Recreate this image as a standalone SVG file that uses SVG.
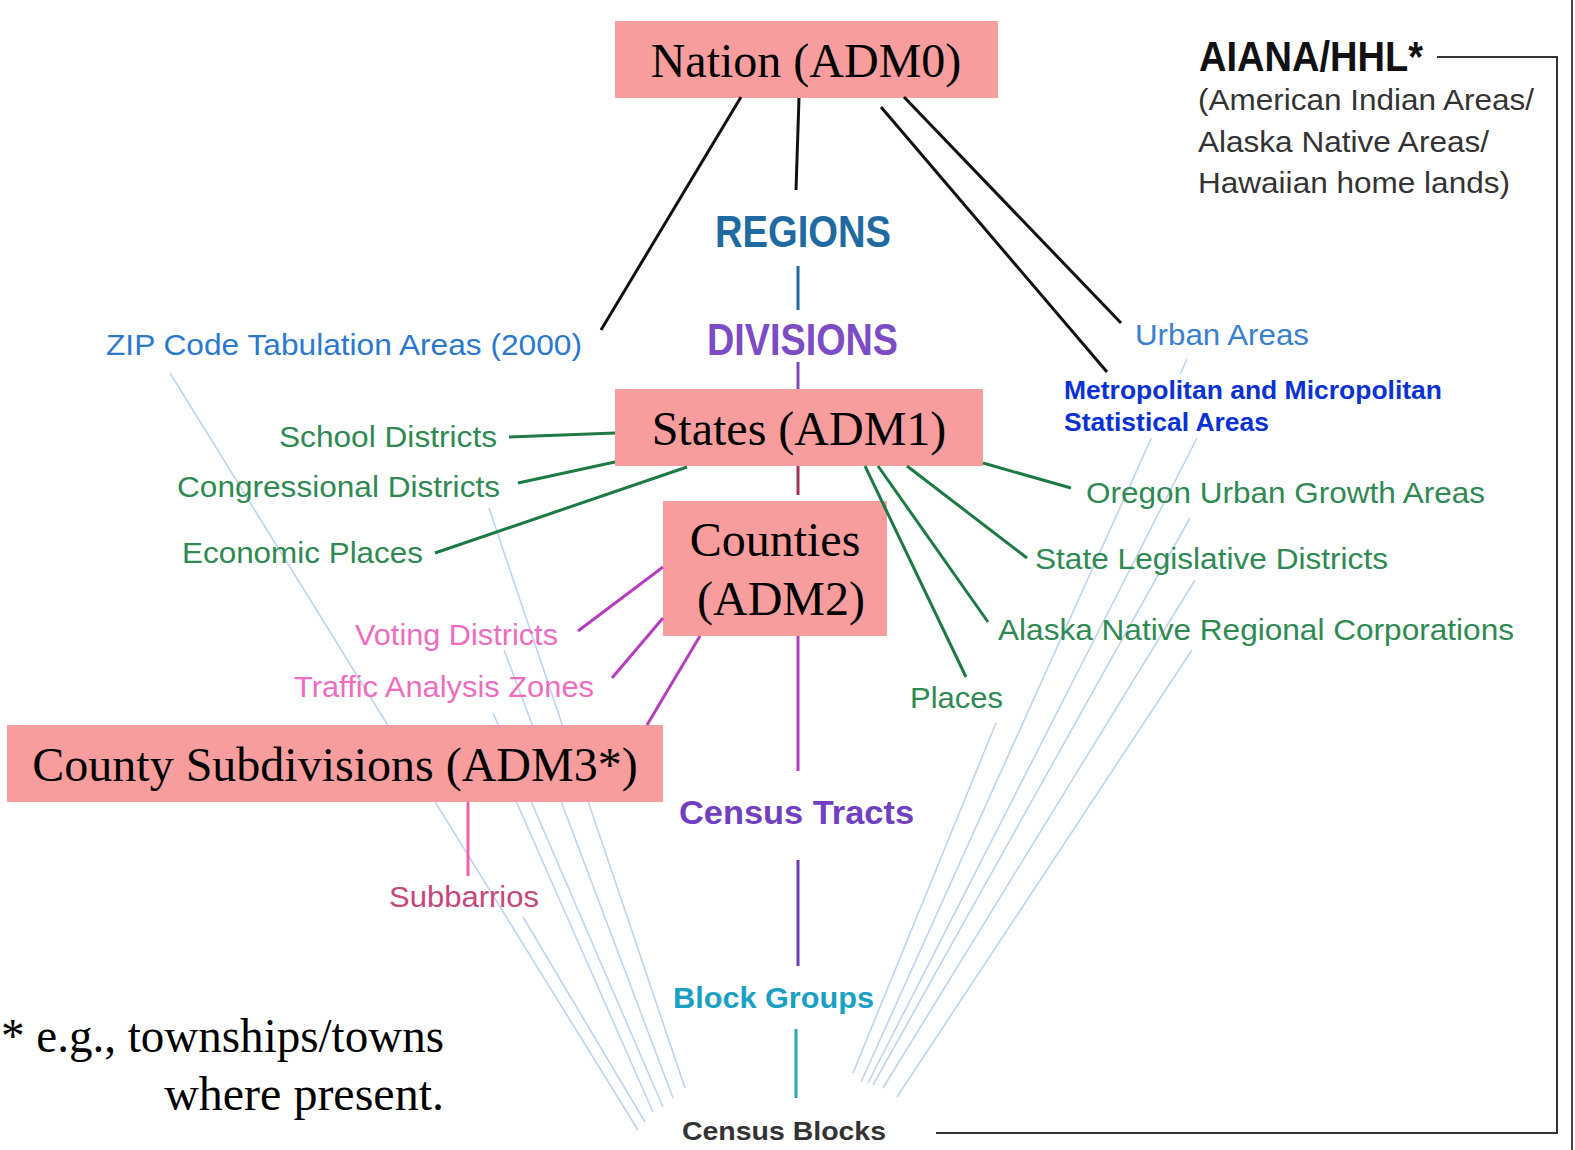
<svg xmlns="http://www.w3.org/2000/svg" width="1575" height="1150" viewBox="0 0 1575 1150">
<style>
.box{fill:#f79d9d}
.bt{font-family:"Liberation Serif","Times New Roman",serif;font-size:48px;fill:#000}
.s{font-family:"Liberation Sans",Arial,sans-serif;font-size:29px}
.b{font-family:"Liberation Sans",Arial,sans-serif;font-weight:bold}
.g{fill:#2e8a52}
.pk{fill:#f06cbf}
.faint{stroke:#bfd3ef;stroke-width:1.6;fill:none}
.blk{stroke:#111;stroke-width:3;fill:none}
.grn{stroke:#1d7a44;stroke-width:3;fill:none}
.mag{stroke:#b63cc0;stroke-width:3;fill:none}
</style>
<rect width="1575" height="1150" fill="#fff"/>
<g id="faint-lines">
<line class="faint" x1="170" y1="373" x2="638" y2="1130"/>
<line class="faint" x1="489" y1="508" x2="685" y2="1088"/>
<line class="faint" x1="504" y1="650" x2="673" y2="1098"/>
<line class="faint" x1="493" y1="713" x2="663" y2="1107"/>
<line class="faint" x1="516" y1="801" x2="653" y2="1112"/>
<line class="faint" x1="523" y1="917" x2="645" y2="1122"/>
<line class="faint" x1="996" y1="723" x2="853" y2="1073"/>
<line class="faint" x1="1187" y1="359" x2="861" y2="1082"/>
<line class="faint" x1="1197" y1="438" x2="868" y2="1083"/>
<line class="faint" x1="1190" y1="518" x2="873" y2="1085"/>
<line class="faint" x1="1195" y1="580" x2="883" y2="1088"/>
<line class="faint" x1="1192" y1="650" x2="897" y2="1097"/>
</g>
<line x1="1572" y1="0" x2="1572" y2="1150" stroke="#444" stroke-width="2"/>
<g id="n-nation"><rect class="box" x="615" y="21" width="383" height="77"/><text class="bt" x="806" y="77" text-anchor="middle">Nation (ADM0)</text></g>
<g id="n-states"><rect class="box" x="615" y="389" width="368" height="77"/><text class="bt" x="799" y="445" text-anchor="middle">States (ADM1)</text></g>
<g id="n-counties"><rect class="box" x="663" y="501" width="224" height="135"/><text class="bt" x="775" y="556" text-anchor="middle">Counties</text><text class="bt" x="781" y="615" text-anchor="middle">(ADM2)</text></g>
<g id="n-countysub"><rect class="box" x="7" y="725" width="656" height="77"/><text class="bt" x="335" y="781" text-anchor="middle">County Subdivisions (ADM3*)</text></g>
<g id="connectors">
<line class="blk" x1="741" y1="97" x2="601" y2="330"/>
<line class="blk" x1="799" y1="98" x2="796" y2="190"/>
<line class="blk" x1="881" y1="107" x2="1107" y2="372"/>
<line class="blk" x1="904" y1="97" x2="1121" y2="323"/>
<line x1="798" y1="266" x2="798" y2="310" stroke="#1f6aa0" stroke-width="3"/>
<line x1="798" y1="362" x2="798" y2="389" stroke="#8048c0" stroke-width="3"/>
<line x1="798" y1="466" x2="798" y2="495" stroke="#a0305e" stroke-width="3"/>
<line x1="798" y1="636" x2="798" y2="771" stroke="#b03cc0" stroke-width="3"/>
<line x1="798" y1="860" x2="798" y2="966" stroke="#6a3ab8" stroke-width="3"/>
<line x1="796" y1="1029" x2="796" y2="1098" stroke="#28a4b8" stroke-width="3"/>
<line x1="468" y1="802" x2="468" y2="876" stroke="#f060b0" stroke-width="3"/>
<line class="grn" x1="509" y1="437" x2="615" y2="433"/>
<line class="grn" x1="518" y1="483" x2="615" y2="462"/>
<line class="grn" x1="435" y1="553" x2="687" y2="467"/>
<line class="grn" x1="983" y1="463" x2="1071" y2="488"/>
<line class="grn" x1="907" y1="466" x2="1027" y2="558"/>
<line class="grn" x1="878" y1="466" x2="988" y2="622"/>
<line class="grn" x1="865" y1="466" x2="966" y2="677"/>
<line class="mag" x1="578" y1="631" x2="663" y2="567"/>
<line class="mag" x1="612" y1="678" x2="663" y2="618"/>
<line class="mag" x1="647" y1="725" x2="700" y2="636"/>
<polyline points="1437,57 1557,57 1557,1133 936,1133" fill="none" stroke="#333" stroke-width="2"/>
</g>
<g id="n-regions"><text class="b" x="715" y="247" font-size="44" fill="#1f6aa0" textLength="176" lengthAdjust="spacingAndGlyphs">REGIONS</text></g>
<g id="n-divisions"><text class="b" x="707" y="355" font-size="44" fill="#7b4cc4" textLength="191" lengthAdjust="spacingAndGlyphs">DIVISIONS</text></g>
<g id="n-aiana">
<text class="b" x="1199" y="71" font-size="43" fill="#111" textLength="224" lengthAdjust="spacingAndGlyphs">AIANA/HHL*</text>
<text class="s" x="1198" y="110" fill="#333" textLength="336" lengthAdjust="spacingAndGlyphs">(American Indian Areas/</text>
<text class="s" x="1198" y="152" fill="#333" textLength="291" lengthAdjust="spacingAndGlyphs">Alaska Native Areas/</text>
<text class="s" x="1198" y="193" fill="#333" textLength="312" lengthAdjust="spacingAndGlyphs">Hawaiian home lands)</text>
</g>
<g id="n-zip"><text class="s" x="106" y="355" fill="#2a78d0" textLength="476" lengthAdjust="spacingAndGlyphs">ZIP Code Tabulation Areas (2000)</text></g>
<g id="n-urban"><text class="s" x="1135" y="345" fill="#3a80d0" textLength="174" lengthAdjust="spacingAndGlyphs">Urban Areas</text></g>
<g id="n-metro">
<rect x="1058" y="374" width="388" height="64" fill="#fff"/>
<text class="b" x="1064" y="399" font-size="26" fill="#0a32d2" textLength="378" lengthAdjust="spacingAndGlyphs">Metropolitan and Micropolitan</text>
<text class="b" x="1064" y="431" font-size="26" fill="#0a32d2" textLength="205" lengthAdjust="spacingAndGlyphs">Statistical Areas</text>
</g>
<g id="n-school"><text class="s g" x="279" y="447" textLength="218" lengthAdjust="spacingAndGlyphs">School Districts</text></g>
<g id="n-congress"><text class="s g" x="177" y="497" textLength="323" lengthAdjust="spacingAndGlyphs">Congressional Districts</text></g>
<g id="n-economic"><text class="s g" x="182" y="563" textLength="241" lengthAdjust="spacingAndGlyphs">Economic Places</text></g>
<g id="n-voting"><text class="s pk" x="355" y="645" textLength="203" lengthAdjust="spacingAndGlyphs">Voting Districts</text></g>
<g id="n-taz"><text class="s pk" x="294" y="697" textLength="300" lengthAdjust="spacingAndGlyphs">Traffic Analysis Zones</text></g>
<g id="n-oregon"><text class="s g" x="1086" y="503" textLength="399" lengthAdjust="spacingAndGlyphs">Oregon Urban Growth Areas</text></g>
<g id="n-stateleg"><text class="s g" x="1035" y="569" textLength="353" lengthAdjust="spacingAndGlyphs">State Legislative Districts</text></g>
<g id="n-alaska"><text class="s g" x="998" y="640" textLength="516" lengthAdjust="spacingAndGlyphs">Alaska Native Regional Corporations</text></g>
<g id="n-places"><text class="s g" x="910" y="708" textLength="93" lengthAdjust="spacingAndGlyphs">Places</text></g>
<g id="n-subbarrios"><text class="s" x="389" y="907" fill="#c8467a" textLength="150" lengthAdjust="spacingAndGlyphs">Subbarrios</text></g>
<g id="n-tracts"><text class="b" x="679" y="824" font-size="33" fill="#7040c0" textLength="235" lengthAdjust="spacingAndGlyphs">Census Tracts</text></g>
<g id="n-bg"><text class="b" x="673" y="1008" font-size="29" fill="#1aa0c4" textLength="201" lengthAdjust="spacingAndGlyphs">Block Groups</text></g>
<g id="n-blocks"><text class="b" x="682" y="1140" font-size="26" fill="#333" textLength="204" lengthAdjust="spacingAndGlyphs">Census Blocks</text></g>
<g id="footnote">
<text class="bt" x="1" y="1052" textLength="443" lengthAdjust="spacingAndGlyphs">* e.g., townships/towns</text>
<text class="bt" x="444" y="1110" text-anchor="end">where present.</text>
</g>
</svg>
